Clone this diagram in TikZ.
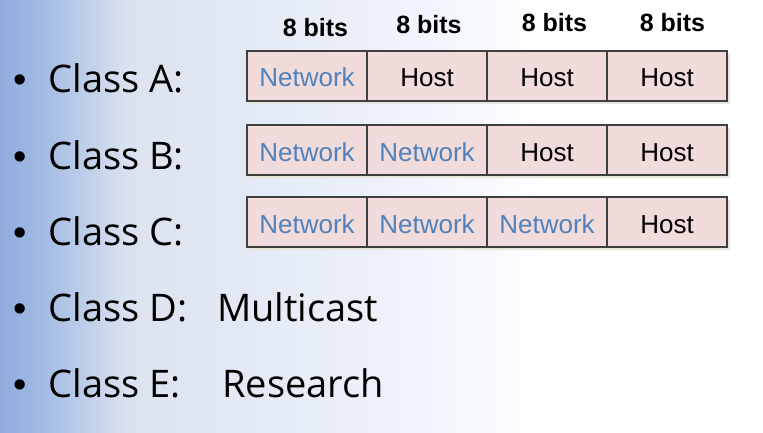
\documentclass[tikz,border=0pt]{standalone}
\usepackage{fontspec}
\setmainfont{Open Sans}
\newfontfamily\arialfont{Liberation Sans}
\usetikzlibrary{positioning}
\usetikzlibrary{shadows}
\definecolor{cellfill}{RGB}{242,220,219}
\definecolor{cellline}{RGB}{64,64,64}
\definecolor{netblue}{RGB}{79,129,189}
\definecolor{cellshadow}{RGB}{230,230,218}
\pgfdeclarehorizontalshading{slidebg}{100bp}{rgb(0bp)=(0.56,0.675,0.87); rgb(25bp)=(0.56,0.675,0.87); rgb(27.6bp)=(0.63,0.73,0.89); rgb(33.5bp)=(0.86,0.89,0.94); rgb(49.25bp)=(0.925,0.945,0.98); rgb(61.5bp)=(1,1,1); rgb(100bp)=(1,1,1)}

\begin{document}
\begin{tikzpicture}[x=1pt,y=1pt,
	cell/.style={draw=cellline, line width=1.4pt, fill=cellfill, minimum width=120pt, minimum height=50pt, outer sep=0pt, inner sep=0pt, text height=22pt, text depth=0pt, font=\arialfont\fontsize{26}{26}\selectfont, drop shadow={shadow xshift=3pt, shadow yshift=-3pt, fill=cellshadow, opacity=1}},
	net/.style={cell, text=netblue},
	bits/.style={anchor=base, font=\arialfont\bfseries\fontsize{25}{25}\selectfont},
	classlabel/.style={anchor=base west, inner sep=0pt, font=\fontsize{38}{38}\selectfont}]
	
	\shade[shading=slidebg] (0,0) rectangle (763,432);
	\useasboundingbox (0,0) rectangle (763,432);
	
	% Bit widths
	\node [bits] at (315.5,395) (1bits) {8 bits};
	\node [bits] at (429,398) (2bits) {8 bits};
	\node [bits] at (554.5,400) (3bits) {8 bits};
	\node [bits] at (672.5,400) (4bits) {8 bits};
	
	% Class A
	\node [net] at (307,356) (A1Net) {Network};
	\node [cell, right=0pt of A1Net] (A2Host) {Host};
	\node [cell, right=0pt of A2Host] (A3Host) {Host};
	\node [cell, right=0pt of A3Host] (A4Host) {Host};
	
	% Class B
	\node [net] at (307,282) (B1Net) {Network};
	\node [net, right=0pt of B1Net] (B2Net) {Network};
	\node [cell, right=0pt of B2Net] (B3Host) {Host};
	\node [cell, right=0pt of B3Host] (B4Host) {Host};
	
	% Class C
	\node [net] at (307,210) (C1Net) {Network};
	\node [net, right=0pt of C1Net] (C2Net) {Network};
	\node [net, right=0pt of C2Net] (C3Net) {Network};
	\node [cell, right=0pt of C3Net] (C4Host) {Host};
	
	% Bullets
	\node [classlabel] at (13,339) (ClassA) {{\arialfont•}\hspace{22pt}Class A:};
	\node [classlabel] at (13,263) (ClassB) {{\arialfont•}\hspace{22pt}Class B:};
	\node [classlabel] at (13,187) (ClassC) {{\arialfont•}\hspace{22pt}Class C:};
	\node [classlabel] at (13,111) (ClassD) {{\arialfont•}\hspace{22pt}Class D:};
	\node [classlabel] at (13,35) (ClassE) {{\arialfont•}\hspace{22pt}Class E:};
	\node [classlabel] at (217,111) (Multicast) {Multicast};
	\node [classlabel] at (222,35) (Research) {Research};
	
\end{tikzpicture}
\end{document}
